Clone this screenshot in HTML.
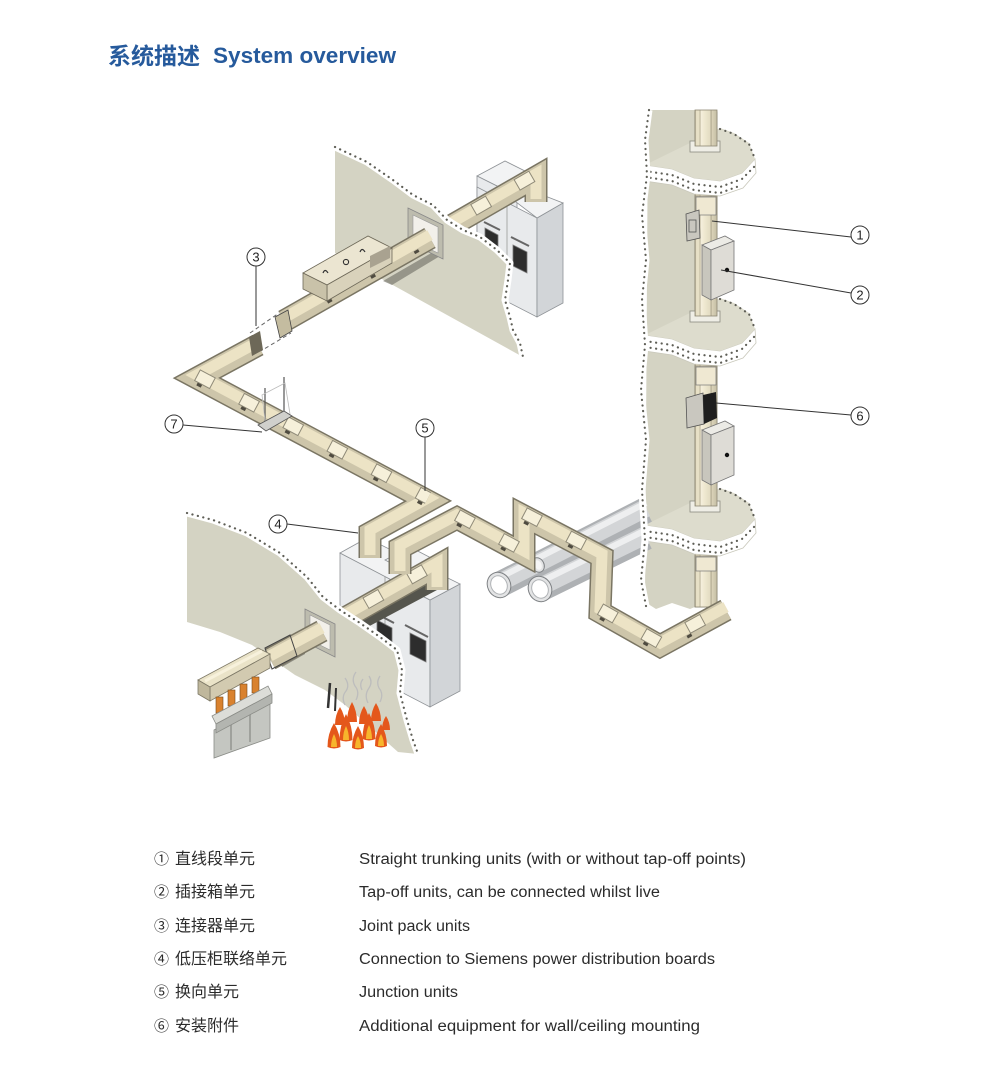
<!DOCTYPE html>
<html><head><meta charset="utf-8">
<style>
html,body{margin:0;padding:0;background:#fff;}
body{width:1000px;height:1083px;overflow:hidden;position:relative;}
svg{position:absolute;left:0;top:0;}
</style></head><body>
<svg width="1000" height="1083" viewBox="0 0 1000 1083" xmlns="http://www.w3.org/2000/svg">
<defs>
<linearGradient id="bus" gradientUnits="userSpaceOnUse" x1="695" y1="0" x2="717" y2="0">
<stop offset="0" stop-color="#a59e86"/><stop offset="0.06" stop-color="#e7e0c6"/><stop offset="0.2" stop-color="#e7e0c6"/><stop offset="0.22" stop-color="#b5ae95"/><stop offset="0.28" stop-color="#f5efdc"/><stop offset="0.45" stop-color="#eee7cf"/><stop offset="0.7" stop-color="#e2dbc1"/><stop offset="0.72" stop-color="#a59e86"/><stop offset="0.78" stop-color="#d9d2b8"/><stop offset="1" stop-color="#c4bda3"/>
</linearGradient>
<style>
.sp1{fill:none;stroke:#fff;stroke-width:7;stroke-linejoin:round}
.sp2{fill:none;stroke:#5e5e56;stroke-width:2.2;stroke-dasharray:0.1 5.5;stroke-linecap:round}
.ta{fill:none;stroke:#7a7563;stroke-width:23;stroke-linejoin:miter;stroke-miterlimit:3}
.tb{fill:none;stroke:#cdc5aa;stroke-width:20;stroke-linejoin:miter;stroke-miterlimit:3}
.tc{fill:none;stroke:#ece3c5;stroke-width:11;stroke-linejoin:miter;stroke-miterlimit:3}
.tdo{fill:none;stroke:#8f8a78;stroke-width:13;stroke-dasharray:18 32}
.td{fill:none;stroke:#f6f0da;stroke-width:11;stroke-dasharray:16 34;stroke-dashoffset:-1}
.te{fill:none;stroke:#4f4b40;stroke-width:3;stroke-dasharray:5 45}
.lead{stroke:#333;stroke-width:1;fill:none}
.lc{fill:#fff;stroke:#333;stroke-width:1}
.lbl{font-family:"Liberation Sans",sans-serif;font-size:13px;fill:#222;text-anchor:middle}
.cab1{fill:#e8eaec;stroke:#8e9296;stroke-width:0.8}
.cab2{fill:#d2d5d8;stroke:#8e9296;stroke-width:0.8}
.cab3{fill:#f2f3f4;stroke:#8e9296;stroke-width:0.8}
.win{fill:#2d2d2d;stroke:#777;stroke-width:0.8}
.bs{fill:url(#bus);stroke:#8e8874;stroke-width:0.8}
.base{fill:#efeee6;stroke:#8a8a80;stroke-width:0.8}
.fl{fill:#e4571b}
.fy{fill:#f7b52c}
.sm{fill:none;stroke:#bdbdbd;stroke-width:1.3}
.leg{font-family:"Liberation Sans","Noto Sans CJK SC",sans-serif;fill:#2b2b2b}
</style>
</defs>

<!-- Title -->
<text x="108" y="64" font-family="'Liberation Sans','Noto Sans CJK SC',sans-serif" font-size="23" font-weight="bold" fill="#265a9c">系统描述</text>
<text x="213" y="63" font-family="'Liberation Sans',sans-serif" font-size="22" font-weight="bold" fill="#265a9c" textLength="183" lengthAdjust="spacingAndGlyphs">System overview</text>

<!-- ===== Riser column ===== -->
<polygon points="648,110 702,110 702,604 690,609 672,603 656,609 645,602" fill="#d4d3c3"/>
<rect class="bs" x="695" y="112" width="22" height="495"/>

<!-- slab 1 -->
<polygon points="645,165 672,169 694,178 720,181 742,173 755,159 756,173 743,188 720,196 694,194 672,185 645,181" fill="#fff" stroke="#c9c8bb" stroke-width="0.8"/>
<polygon points="645,165 692,142 720,128 734,133 749,143 755,159 742,173 720,181 694,178 672,169" fill="#dddccd"/>
<polyline class="sp2" points="645,171 672,175 694,184 720,187 742,179 755,166"/>
<polyline class="sp2" points="645,177 672,181 694,190 720,193 742,185"/>
<polyline class="sp2" points="720,129 734,134 749,144 755,159"/>
<!-- slab 2 -->
<polygon points="645,335 672,339 694,348 720,351 742,343 755,329 756,343 743,358 720,366 694,364 672,355 645,351" fill="#fff" stroke="#c9c8bb" stroke-width="0.8"/>
<polygon points="645,335 692,312 720,298 734,303 749,313 755,329 742,343 720,351 694,348 672,339" fill="#dddccd"/>
<polyline class="sp2" points="645,341 672,345 694,354 720,357 742,349 755,336"/>
<polyline class="sp2" points="645,347 672,351 694,360 720,363 742,355"/>
<polyline class="sp2" points="720,299 734,304 749,314 755,329"/>
<!-- slab 3 -->
<polygon points="645,525 672,529 694,538 720,541 742,533 755,519 756,533 743,548 720,556 694,554 672,545 645,541" fill="#fff" stroke="#c9c8bb" stroke-width="0.8"/>
<polygon points="645,525 692,502 720,488 734,493 749,503 755,519 742,533 720,541 694,538 672,529" fill="#dddccd"/>
<polyline class="sp2" points="645,531 672,535 694,544 720,547 742,539 755,526"/>
<polyline class="sp2" points="645,537 672,541 694,550 720,553 742,545"/>
<polyline class="sp2" points="720,489 734,494 749,504 755,519"/>

<!-- bus segments standing on slabs -->
<rect class="base" x="690" y="141" width="30" height="11"/>
<rect class="bs" x="695" y="110" width="22" height="36"/>
<rect class="base" x="690" y="311" width="30" height="11"/>
<rect class="bs" x="695" y="196" width="22" height="120"/>
<rect class="base" x="690" y="501" width="30" height="11"/>
<rect class="bs" x="695" y="366" width="22" height="140"/>
<rect class="bs" x="695" y="556" width="22" height="51"/>
<rect x="696" y="197" width="20" height="18" fill="#efe8d2" stroke="#777" stroke-width="0.7"/>
<rect x="696" y="367" width="20" height="18" fill="#efe8d2" stroke="#777" stroke-width="0.7"/>
<rect x="696" y="557" width="20" height="14" fill="#efe8d2" stroke="#777" stroke-width="0.7"/>

<!-- brackets -->
<polygon points="686,214 699,210 700,238 687,241" fill="#c9c7bf" stroke="#555" stroke-width="0.8"/>
<rect x="689" y="220" width="7" height="12" fill="none" stroke="#555" stroke-width="0.8"/>
<polygon points="686,398 703,393 704,424 687,428" fill="#c9c7bf" stroke="#555" stroke-width="0.8"/>
<polygon points="703,395 716,392 717,418 704,424" fill="#1e1e1e"/>

<!-- tap-off boxes -->
<polygon points="702,245 725,236 734,241 711,250" fill="#ecebe6" stroke="#777" stroke-width="0.8"/>
<polygon points="702,245 711,250 711,300 702,295" fill="#c8c6bd" stroke="#777" stroke-width="0.8"/>
<polygon points="711,250 734,241 734,290 711,300" fill="#dedcd6" stroke="#777" stroke-width="0.8"/>
<circle cx="727" cy="270" r="2.2" fill="#111"/>
<polygon points="702,430 725,421 734,426 711,435" fill="#ecebe6" stroke="#777" stroke-width="0.8"/>
<polygon points="702,430 711,435 711,485 702,480" fill="#c8c6bd" stroke="#777" stroke-width="0.8"/>
<polygon points="711,435 734,426 734,475 711,485" fill="#dedcd6" stroke="#777" stroke-width="0.8"/>
<circle cx="727" cy="455" r="2.2" fill="#111"/>

<!-- pipes -->
<path d="M499 585 L646 510" stroke="#aeb1b4" stroke-width="26" fill="none"/>
<path d="M499 583 L646 508" stroke="#d3d5d7" stroke-width="18" fill="none"/>
<path d="M499 578 L646 503" stroke="#eeeff0" stroke-width="6" fill="none"/>
<g transform="translate(499,585) rotate(-27)"><ellipse rx="11.5" ry="13" fill="#e3e4e5" stroke="#7f8285"/><ellipse rx="8" ry="9.5" fill="#fff" stroke="#b0b3b6"/></g>
<g transform="translate(538,565) rotate(-27)"><ellipse rx="6" ry="7.5" fill="#e3e4e5" stroke="#7f8285"/><ellipse rx="3.5" ry="5" fill="#f6f6f6"/></g>
<path d="M540 589 L646 537" stroke="#aeb1b4" stroke-width="26" fill="none"/>
<path d="M540 587 L646 535" stroke="#d3d5d7" stroke-width="18" fill="none"/>
<path d="M540 582 L646 530" stroke="#eeeff0" stroke-width="6" fill="none"/>
<g transform="translate(540,589) rotate(-27)"><ellipse rx="11.5" ry="13" fill="#e3e4e5" stroke="#7f8285"/><ellipse rx="8" ry="9.5" fill="#fff" stroke="#b0b3b6"/></g>

<!-- riser left speckle edge -->
<polyline class="sp1" points="649,110 645,140 647,175 642,215 646,260 642,300 645,345 641,390 646,440 642,490 645,540 641,580 646,606"/>
<polyline class="sp2" points="649,110 645,140 647,175 642,215 646,260 642,300 645,345 641,390 646,440 642,490 645,540 641,580 646,606"/>

<!-- ===== Upper cabinets ===== -->
<polygon class="cab3" points="477,176 505,161 545,181 517,196"/>
<polygon class="cab1" points="477,176 517,196 517,290 477,270"/>
<polygon class="cab1" points="477,187 537,218 537,317 477,286"/>
<polygon class="cab2" points="537,218 563,203 563,303 537,317"/>
<polygon class="cab3" points="503,192 517,185 563,203 537,218"/>
<line x1="507" y1="202" x2="507" y2="301" stroke="#999" stroke-width="0.8"/>
<line x1="484" y1="222" x2="500" y2="230" stroke="#666" stroke-width="2"/>
<polygon class="win" points="485,228 498,235 498,252 485,245"/>
<line x1="511" y1="237" x2="529" y2="246" stroke="#666" stroke-width="2"/>
<polygon class="win" points="513,245 527,252 527,273 513,266"/>

<!-- route 1 back trunk -->
<path class="ta" d="M430 238 L536 177 L536 202"/>
<path class="tb" d="M430 238 L536 177 L536 202"/>
<path class="tc" d="M430 238 L536 177 L536 202" transform="translate(0,-3)"/>
<path class="tdo" d="M430 238 L536 177" transform="translate(0,-3)"/>
<path class="td" d="M430 238 L536 177" transform="translate(0,-3)"/>

<!-- upper wall -->
<polygon points="335,147 367,162 393,180 413,195 433,205 447,220 463,230 480,237 497,250 510,263 508,280 505,300 510,317 513,330 520,343 523,357 335,253" fill="#d4d3c3"/>
<polyline class="sp1" points="335,147 367,162 393,180 413,195 433,205 447,220 463,230 480,237 497,250 510,263 508,280 505,300 510,317 513,330 520,343 523,357"/>
<polyline class="sp2" points="335,147 367,162 393,180 413,195 433,205 447,220 463,230 480,237 497,250 510,263 508,280 505,300 510,317 513,330 520,343 523,357"/>
<polygon points="383,281 433,252 440,256 392,285" fill="#7c7b70" opacity="0.7"/>
<!-- hole frame -->
<polygon points="408,208 443,225 443,259 408,242" fill="#bdbcae" stroke="#888" stroke-width="0.8"/>
<polygon points="413,215 438,227 438,253 413,241" fill="#f2f0ea" stroke="#999" stroke-width="0.6"/>

<!-- route 1 front trunk -->
<path class="ta" d="M284 321 L430 238"/>
<path class="tb" d="M284 321 L430 238"/>
<path class="tc" d="M284 321 L430 238" transform="translate(0,-3)"/>
<path class="te" d="M284 321 L430 238" transform="translate(0,6)"/>
<polygon points="275,317 288,310 292,331 280,338" fill="#c4bca0" stroke="#444" stroke-width="0.8"/>

<!-- big box on trunk -->
<polygon points="303,273 368,236 392,248 327,285" fill="#ebe5d1" stroke="#6d6858" stroke-width="0.8"/>
<polygon points="327,285 392,248 392,263 327,301" fill="#d9d2bb" stroke="#6d6858" stroke-width="0.8"/>
<polygon points="303,273 327,285 327,301 303,289" fill="#c9c2a9" stroke="#6d6858" stroke-width="0.8"/>
<polygon points="370,256 390,246 390,258 370,268" fill="#a9a290"/>
<path d="M323 273 q2 -5 5 0" stroke="#333" stroke-width="1.2" fill="none"/>
<circle cx="346" cy="262" r="2.6" stroke="#333" stroke-width="1.1" fill="none"/>
<path d="M360 252 q2 -5 5 0" stroke="#333" stroke-width="1.2" fill="none"/>

<!-- joint pack dashed -->
<line x1="250" y1="333" x2="279" y2="313" stroke="#666" stroke-width="1" stroke-dasharray="4 3"/>
<line x1="259" y1="352" x2="291" y2="333" stroke="#666" stroke-width="1" stroke-dasharray="4 3"/>

<!-- ===== Lower cabinets ===== -->
<polygon class="cab1" points="340,553 430,600 430,707 340,660"/>
<polygon class="cab2" points="430,600 460,584 460,691 430,707"/>
<polygon class="cab3" points="340,553 367,538 460,584 430,600"/>
<polygon class="cab3" points="385,560 410,547 435,560 410,573"/>
<line x1="385" y1="577" x2="385" y2="683" stroke="#999" stroke-width="0.8"/>
<line x1="375" y1="613" x2="394" y2="623" stroke="#666" stroke-width="2"/>
<polygon class="win" points="377,620 392,628 392,645 377,637"/>
<line x1="405" y1="625" x2="428" y2="637" stroke="#666" stroke-width="2"/>
<polygon class="win" points="410,633 426,641 426,662 410,654"/>

<!-- route 3 back -->
<polygon points="342,630 437,579 437,590 347,638" fill="#55554d"/>
<path class="ta" d="M322 631 L437 566 L437 590"/>
<path class="tb" d="M322 631 L437 566 L437 590"/>
<path class="tc" d="M322 631 L437 566 L437 590" transform="translate(0,-3)"/>
<path class="tdo" d="M322 631 L437 566" transform="translate(0,-3)"/>
<path class="td" d="M322 631 L437 566" transform="translate(0,-3)"/>

<!-- lower wall -->
<polygon points="187,513 213,520 247,533 280,553 307,577 323,597 340,610 360,623 380,637 397,650 402,670 400,693 407,720 413,740 418,754 398,752 370,727 345,705 325,690 295,675 252,645 220,632 187,622" fill="#d4d3c3"/>
<polyline class="sp1" points="187,513 213,520 247,533 280,553 307,577 323,597 340,610 360,623 380,637 397,650 402,670 400,693 407,720 413,740 418,754"/>
<polyline class="sp2" points="187,513 213,520 247,533 280,553 307,577 323,597 340,610 360,623 380,637 397,650 402,670 400,693 407,720 413,740 418,754"/>
<!-- lower hole -->
<polygon points="305,609 335,624 335,657 305,642" fill="#bdbcae" stroke="#888" stroke-width="0.8"/>
<polygon points="310,615 330,625 330,650 310,640" fill="#f2f0ea" stroke="#999" stroke-width="0.6"/>
<polygon points="278,656 305,642 305,654 282,667" fill="#6d6c64" opacity="0.7"/>

<!-- route 3 front -->
<path class="ta" d="M322 631 L270 659"/>
<path class="tb" d="M322 631 L270 659"/>
<path class="tc" d="M322 631 L270 659" transform="translate(0,-3)"/>
<polygon points="265,648 290,635 297,656 272,669" fill="none" stroke="#444" stroke-width="1"/>

<!-- transformer -->
<polygon points="198,680 258,648 270,654 210,687" fill="#eae3c8" stroke="#7d7866" stroke-width="0.8"/>
<line x1="205" y1="681" x2="262" y2="651" stroke="#f7f1dc" stroke-width="3"/>
<polygon points="210,687 270,654 270,668 210,701" fill="#d2cab0" stroke="#7d7866" stroke-width="0.8"/>
<polygon points="198,680 210,687 210,701 198,694" fill="#bfb79c" stroke="#7d7866" stroke-width="0.8"/>
<polygon points="214,730 270,700 270,738 214,758" fill="#c4c6c1" stroke="#8a8c87" stroke-width="0.8"/>
<line x1="231" y1="721" x2="231" y2="750" stroke="#9fa19c" stroke-width="2"/>
<line x1="250" y1="711" x2="250" y2="742" stroke="#9fa19c" stroke-width="2"/>
<rect x="216" y="697" width="7" height="16" fill="#d9822f" stroke="#7a4a1a" stroke-width="0.6"/>
<rect x="228" y="690" width="7" height="16" fill="#d9822f" stroke="#7a4a1a" stroke-width="0.6"/>
<rect x="240" y="684" width="7" height="16" fill="#d9822f" stroke="#7a4a1a" stroke-width="0.6"/>
<rect x="252" y="677" width="7" height="16" fill="#d9822f" stroke="#7a4a1a" stroke-width="0.6"/>
<polygon points="212,716 268,686 272,694 216,724" fill="#dcddd8" stroke="#8a8c87" stroke-width="0.8"/>
<polygon points="216,724 272,694 272,703 216,733" fill="#b3b5b0" stroke="#8a8c87" stroke-width="0.8"/>

<!-- fire -->
<line x1="330" y1="683" x2="328" y2="708" stroke="#333" stroke-width="2.5"/>
<line x1="336" y1="688" x2="335" y2="711" stroke="#333" stroke-width="2"/>
<path class="sm" d="M345 705 q-4 -8 1 -14 q4 -6 -1 -13"/>
<path class="sm" d="M356 700 q4 -8 -1 -14 q-4 -7 1 -14"/>
<path class="sm" d="M368 703 q-4 -8 1 -15 q4 -6 0 -12"/>
<path class="sm" d="M380 702 q4 -8 -1 -14 q-3 -6 1 -12"/>
<path class="sm" d="M362 690 q-3 -6 1 -11" stroke="#d88"/>
<path class="fl" d="M335 725 Q335 715 340 707 Q345 715 345 725Z"/>
<path class="fl" d="M347 722 Q347 711 352 702 Q357 711 357 722Z"/>
<path class="fl" d="M359 724 Q359 714 364 706 Q369 714 369 724Z"/>
<path class="fl" d="M371 721 Q371 711 376 703 Q381 711 381 721Z"/>
<path class="fl" d="M382 730 Q382 722 386 716 Q390 722 390 730Z"/>
<path class="fl" d="M327.5 747 Q327.5 733.8 334 723 Q340.5 733.8 340.5 747 Q334 750 327.5 747Z"/>
<path class="fy" d="M331 747 Q331 739.9 334 734 Q337 739.9 337 747Z"/>
<path class="fl" d="M339.5 740 Q339.5 725.7 346 714 Q352.5 725.7 352.5 740 Q346 743 339.5 740Z"/>
<path class="fy" d="M343 740 Q343 732 346 726 Q349 732 349 740Z"/>
<path class="fl" d="M352 748 Q352 735.9 358 726 Q364 735.9 364 748 Q358 751 352 748Z"/>
<path class="fy" d="M355 748 Q355 741 358 736 Q361 741 361 748Z"/>
<path class="fl" d="M362.5 739 Q362.5 724.7 369 713 Q375.5 724.7 375.5 739 Q369 742 362.5 739Z"/>
<path class="fy" d="M366 739 Q366 731 369 725 Q372 731 372 739Z"/>
<path class="fl" d="M375 746 Q375 733.9 381 724 Q387 733.9 387 746 Q381 749 375 746Z"/>
<path class="fy" d="M378 746 Q378 739 381 734 Q384 739 384 746Z"/>

<!-- route 1 lower trunk (corner, ⑤, ④) -->
<path class="ta" d="M258 345 L197 378 L428 501 L370 533 L370 558"/>
<path class="tb" d="M258 345 L197 378 L428 501 L370 533 L370 558"/>
<path class="tc" d="M258 345 L197 378 L428 501 L370 533 L370 558" transform="translate(0,-3)"/>
<path class="tdo" d="M197 378 L428 501" transform="translate(0,-3)"/>
<path class="td" d="M197 378 L428 501" transform="translate(0,-3)"/>
<path class="te" d="M197 378 L428 501" transform="translate(0,6)"/>
<polygon points="249,337 260,331 263,350 252,356" fill="#6d6858"/>

<!-- route 2 trunk with bridge -->
<path class="ta" d="M400 574 L400 548 L457 518 L524 554 L524 516 L602 557 L600 612 L660 646 L726 610"/>
<path class="tb" d="M400 574 L400 548 L457 518 L524 554 L524 516 L602 557 L600 612 L660 646 L726 610"/>
<path class="tc" d="M400 574 L400 548 L457 518 L524 554 L524 516 L602 557 L600 612 L660 646 L726 610" transform="translate(0,-3)"/>
<path class="tdo" d="M457 518 L524 554 M524 516 L602 557 M600 612 L660 646 L726 610" transform="translate(0,-3)"/>
<path class="td" d="M457 518 L524 554 M524 516 L602 557 M600 612 L660 646 L726 610" transform="translate(0,-3)"/>
<path class="te" d="M457 518 L524 554 M524 516 L602 557 M600 612 L660 646 L726 610" transform="translate(0,6)"/>

<!-- ⑦ mounting -->
<line x1="265" y1="388" x2="265" y2="428" stroke="#555" stroke-width="1.2"/>
<line x1="284" y1="377" x2="284" y2="416" stroke="#555" stroke-width="1.2"/>
<polygon points="262,395 285,383 290,414 266,428" fill="none" stroke="#bbb" stroke-width="0.8"/>
<polygon points="258,425 284,411 292,416 266,431" fill="#d0d0cc" stroke="#555" stroke-width="0.8"/>

<!-- leaders & labels -->
<line class="lead" x1="712" y1="221" x2="851" y2="237"/>
<line class="lead" x1="721" y1="270" x2="851" y2="293"/>
<line class="lead" x1="716" y1="403" x2="851" y2="415"/>
<line class="lead" x1="256" y1="266" x2="256" y2="326"/>
<line class="lead" x1="183" y1="425" x2="262" y2="432"/>
<line class="lead" x1="425" y1="437" x2="425" y2="491"/>
<line class="lead" x1="287" y1="524" x2="358" y2="533"/>

<circle class="lc" cx="860" cy="235" r="9"/><text class="lbl" x="860" y="239.5">1</text>
<circle class="lc" cx="860" cy="295" r="9"/><text class="lbl" x="860" y="299.5">2</text>
<circle class="lc" cx="860" cy="416" r="9"/><text class="lbl" x="860" y="420.5">6</text>
<circle class="lc" cx="256" cy="257" r="9"/><text class="lbl" x="256" y="261.5">3</text>
<circle class="lc" cx="174" cy="424" r="9"/><text class="lbl" x="174" y="428.5">7</text>
<circle class="lc" cx="425" cy="428" r="9"/><text class="lbl" x="425" y="432.5">5</text>
<circle class="lc" cx="278" cy="524" r="9"/><text class="lbl" x="278" y="528.5">4</text>

<!-- legend -->
<g class="leg">
<text x="154" y="864" font-size="15" font-family="'Noto Sans CJK SC',sans-serif">①</text>
<text x="175" y="864" font-size="16">直线段单元</text>
<text x="359" y="864" font-size="15.5" textLength="387" lengthAdjust="spacingAndGlyphs">Straight trunking units (with or without tap-off points)</text>

<text x="154" y="897" font-size="15" font-family="'Noto Sans CJK SC',sans-serif">②</text>
<text x="175" y="897" font-size="16">插接箱单元</text>
<text x="359" y="897" font-size="15.5" textLength="301" lengthAdjust="spacingAndGlyphs">Tap-off units, can be connected whilst live</text>

<text x="154" y="931" font-size="15" font-family="'Noto Sans CJK SC',sans-serif">③</text>
<text x="175" y="931" font-size="16">连接器单元</text>
<text x="359" y="931" font-size="15.5" textLength="111" lengthAdjust="spacingAndGlyphs">Joint pack units</text>

<text x="154" y="964" font-size="15" font-family="'Noto Sans CJK SC',sans-serif">④</text>
<text x="175" y="964" font-size="16">低压柜联络单元</text>
<text x="359" y="964" font-size="15.5" textLength="356" lengthAdjust="spacingAndGlyphs">Connection to Siemens power distribution boards</text>

<text x="154" y="997" font-size="15" font-family="'Noto Sans CJK SC',sans-serif">⑤</text>
<text x="175" y="997" font-size="16">换向单元</text>
<text x="359" y="997" font-size="15.5" textLength="99" lengthAdjust="spacingAndGlyphs">Junction units</text>

<text x="154" y="1031" font-size="15" font-family="'Noto Sans CJK SC',sans-serif">⑥</text>
<text x="175" y="1031" font-size="16">安装附件</text>
<text x="359" y="1031" font-size="15.5" textLength="341" lengthAdjust="spacingAndGlyphs">Additional equipment for wall/ceiling mounting</text>
</g>
</svg>
</body></html>
